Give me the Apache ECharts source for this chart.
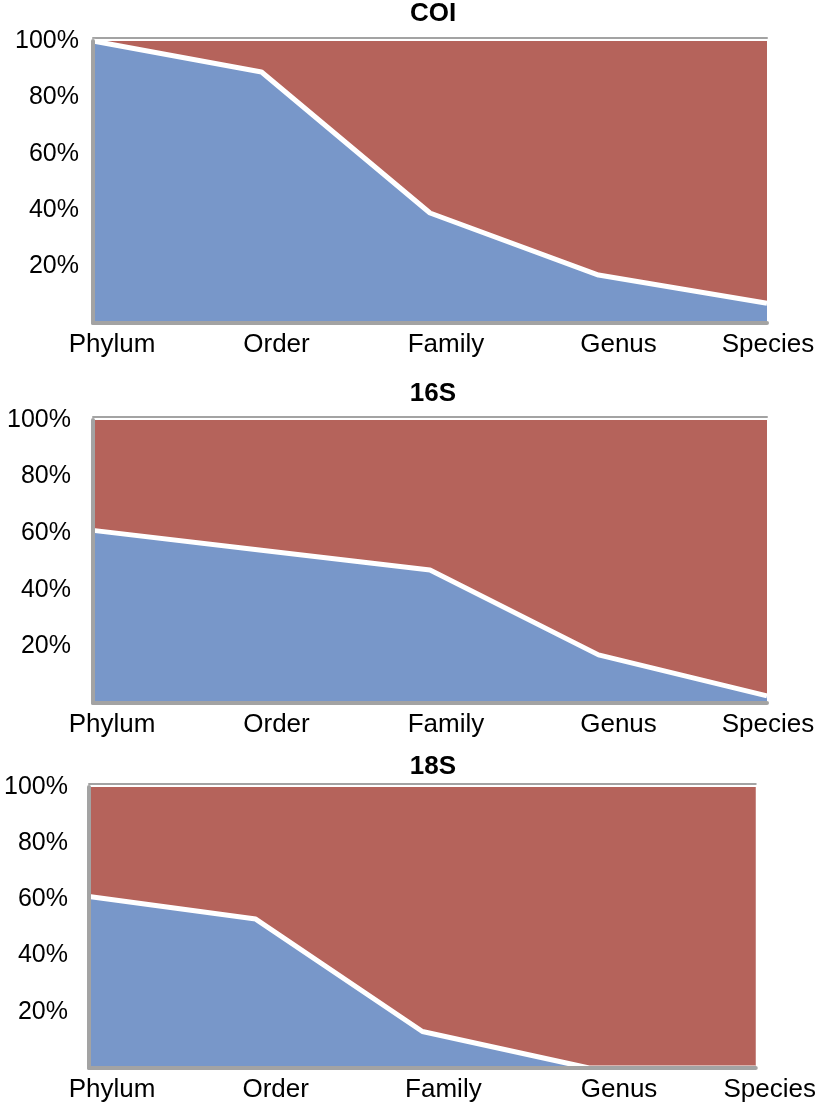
<!DOCTYPE html>
<html><head><meta charset="utf-8">
<script src="https://cdn.jsdelivr.net/npm/echarts@6/dist/echarts.min.js"></script>
<style>html,body{margin:0;padding:0;background:#fff}#c{width:819px;height:1108px}</style>
</head><body><div id="c"></div>
<script>
const categories = ['Phylum', 'Order', 'Family', 'Genus', 'Species'];
const yTicks = [0, 20, 40, 60, 80, 100];
const panelTitles = ['COI', '16S', '18S'];
// share identified (blue, lower) and remainder (red, upper), in %
const coiBlue = [100, 89, 39, 17, 7];
const coiRed  = [0, 11, 61, 83, 93];
const s16Blue = [61, 54, 47, 17, 2.5];
const s16Red  = [39, 46, 53, 83, 97.5];
const s18Blue = [61, 53, 13, 0, 0];
const s18Red  = [39, 47, 87, 100, 100];

const blueData = [coiBlue, s16Blue, s18Blue];
const redData = [coiRed, s16Red, s18Red];

const BLUE = '#7897C9', RED = '#B5635B', GREY = '#A3A3A3';
const FONT = '"Liberation Sans", Arial, sans-serif';

const grids = [
  {left: 93, right: 52, top: 41, height: 282},
  {left: 93, right: 52, top: 420, height: 283},
  {left: 89, right: 63, top: 787, height: 281}
];
const yMargins = [14, 22, 21];
const labelShift = [
  [38, 30, 32, 40, 2],
  [38, 30, 32, 40, 2],
  [46, 40, 42, 60, 28]
];
const titleTops = [1, 381, 754];

const option = {
  animation: false,
  title: panelTitles.map((t, i) => ({
    text: t, left: 433, top: titleTops[i], textAlign: 'center', padding: 0,
    textStyle: {fontFamily: FONT, fontWeight: 'bold', fontSize: 26, color: '#000'}
  })),
  grid: grids,
  xAxis: [],
  yAxis: [],
  series: []
};

grids.forEach((g, i) => {
  const rich = {};
  labelShift[i].forEach((s, k) => {
    rich['p' + k] = {
      fontFamily: FONT, fontSize: 26, color: '#000',
      padding: s >= 0 ? [0, 0, 0, s] : [0, -s, 0, 0]
    };
  });
  option.xAxis.push({
    type: 'category', gridIndex: i, data: categories, boundaryGap: false,
    axisLine: {lineStyle: {color: GREY, width: 4}},
    axisTick: {show: false},
    axisLabel: {
      interval: 0, margin: 9,
      formatter: (v, idx) => '{p' + idx + '|' + v + '}',
      rich: rich
    },
    z: 5
  });
  // thin top border line
  option.xAxis.push({
    type: 'category', gridIndex: i, data: categories, boundaryGap: false,
    position: 'top', offset: 3,
    axisLine: {lineStyle: {color: GREY, width: 2}},
    axisTick: {show: false}, axisLabel: {show: false}
  });
  option.yAxis.push({
    type: 'value', gridIndex: i, min: 0, max: 100, interval: 20,
    axisLine: {show: true, lineStyle: {color: GREY, width: 4}},
    axisTick: {show: false},
    splitLine: {show: false},
    axisLabel: {
      margin: yMargins[i], fontFamily: FONT, fontSize: 25, color: '#000',
      formatter: v => (v === yTicks[0] ? '' : v + '%')
    },
    z: 5
  });
  option.series.push({
    type: 'line', xAxisIndex: i * 2, yAxisIndex: i, stack: 's' + i,
    data: blueData[i], symbol: 'none', z: 3,
    lineStyle: {color: '#fff', width: 5},
    areaStyle: {color: BLUE, opacity: 1}
  });
  option.series.push({
    type: 'line', xAxisIndex: i * 2, yAxisIndex: i, stack: 's' + i,
    data: redData[i], symbol: 'none', z: 2,
    lineStyle: {width: 0, color: RED},
    areaStyle: {color: RED, opacity: 1}
  });
});

echarts.init(document.getElementById('c'), null, {renderer: 'canvas'}).setOption(option);
</script>
</body></html>
